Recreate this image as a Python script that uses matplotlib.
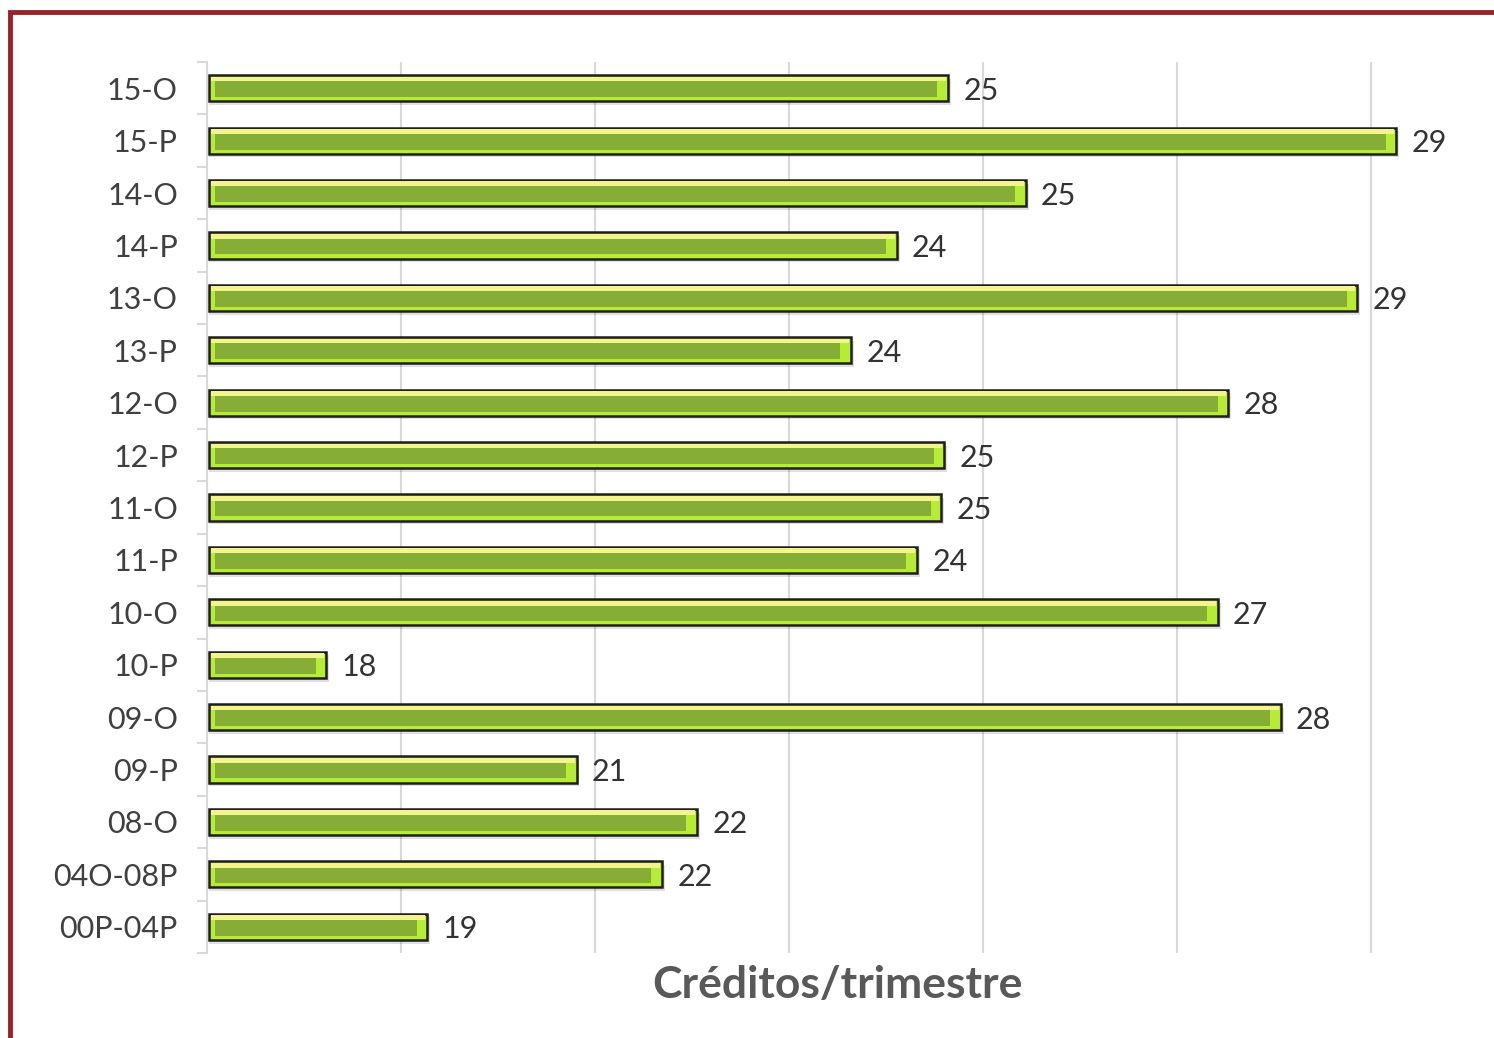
import matplotlib
matplotlib.use("Agg")
import matplotlib.pyplot as plt
from matplotlib.patches import Rectangle
import numpy as np

# periodos, de arriba hacia abajo
periodos = ["15-O", "15-P", "14-O", "14-P", "13-O", "13-P", "12-O", "12-P",
            "11-O", "11-P", "10-O", "10-P", "09-O", "09-P", "08-O",
            "04O-08P", "00P-04P"]
# creditos promedio por trimestre
creditos = [24.64, 29.26, 25.44, 24.11, 28.86, 23.64, 27.53, 24.60,
            24.57, 24.32, 27.42, 18.23, 28.07, 20.81, 22.05, 21.69, 19.27]
x_ticks = [19, 21, 23, 25, 27, 29]

plt.rcParams['font.family'] = ['Lato', 'DejaVu Sans']

fig = plt.figure(figsize=(14.94, 10.38), dpi=100)
ax = fig.add_axes([207 / 1494, 1 - 953 / 1038, 1309 / 1494, 891 / 1038])

base = 17
y = np.arange(len(periodos))
vals = np.array(creditos) - base - 0.02

# sombra
ax.barh(y + 0.07, vals + 0.03, left=base + 0.02, height=0.5, color="#000000",
        alpha=0.12, linewidth=0, zorder=2)
# barra exterior (bisel claro)
bars = ax.barh(y, vals, left=base + 0.02, height=0.5, color="#b6ec36",
               edgecolor="#1e1e1e", linewidth=1.8, zorder=3)
# cuerpo verde
ax.barh(y + 0.02, vals - 0.17, left=base + 0.08, height=0.3, color="#86ad35",
        linewidth=0, zorder=4)
# brillo superior
ax.barh(y - 0.175, vals - 0.04, left=base + 0.04, height=0.09, color="#f3f58c",
        linewidth=0, zorder=4)

texts = ax.bar_label(bars, labels=["%.0f" % v for v in creditos], padding=11,
                     fontsize=22, color="#333333")
for t in texts:
    t.set_va("center_baseline")

ax.set_xlim(base, base + 1309 / 97)
ax.set_ylim(len(periodos) - 0.5, -0.5)
ax.set_xticks(x_ticks)
ax.tick_params(axis="x", length=0, labelbottom=False)
ax.grid(axis="x", color="#d9d9d9", linewidth=1.5, zorder=0)

ax.set_yticks(y)
ax.set_yticklabels(periodos, fontsize=22, color="#404040")
ax.set_yticks(np.arange(-0.5, len(periodos)), minor=True)
ax.tick_params(axis="y", which="major", length=0, pad=21)
ax.tick_params(axis="y", which="minor", length=7, width=1.5, color="#d9d9d9")

for s in ["top", "right", "bottom"]:
    ax.spines[s].set_visible(False)
ax.spines["left"].set_color("#d9d9d9")
ax.spines["left"].set_linewidth(1.5)
ax.set_axisbelow(True)

fig.text(837 / 1494, 1 - 985 / 1038, "Créditos/trimestre", fontsize=32,
         fontweight="bold", color="#595959", ha="center", va="center")

# marco rojo
fig.patches.append(Rectangle((10 / 1494, -0.1), 1.2, 1 - 12 / 1038 + 0.1,
                             transform=fig.transFigure, fill=False,
                             edgecolor="#9a2226", linewidth=3.5))

fig.savefig("out.png", dpi=100)
